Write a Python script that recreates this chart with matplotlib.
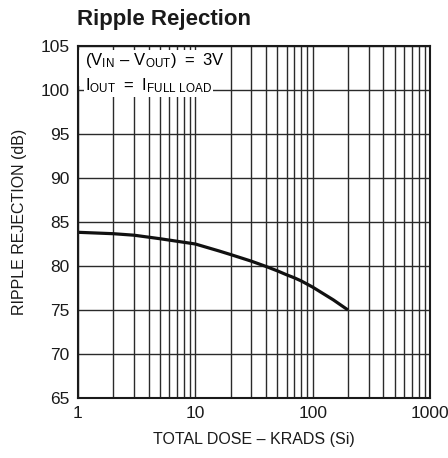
import matplotlib
matplotlib.use('Agg')
import matplotlib.pyplot as plt
from matplotlib.patches import Rectangle
from matplotlib.ticker import LogLocator, FixedLocator, NullFormatter, FixedFormatter

plt.rcParams['font.family'] = ['Liberation Sans', 'DejaVu Sans']
plt.rcParams['mathtext.fontset'] = 'custom'
plt.rcParams['mathtext.rm'] = 'Liberation Sans'

# curve
dose = [1, 2, 3, 5, 10, 16, 20, 30, 40, 50, 60, 70, 80, 100, 150, 200]
rejection = [83.83, 83.67, 83.5, 83.1, 82.5, 81.7, 81.3, 80.55, 79.95,
             79.45, 79.0, 78.65, 78.3, 77.6, 76.15, 75.0]

x_ticks = [1, 10, 100, 1000]
x_labels = ['1', '10', '100', '1000']
y_ticks = [65, 70, 75, 80, 85, 90, 95, 100, 105]

fig = plt.figure(figsize=(4.48, 4.58), dpi=100)
ax = fig.add_axes([78 / 448, 1 - 398 / 458, 352 / 448, 352 / 458])

ax.set_xscale('log')
ax.set_xlim(1, 1000)
ax.set_ylim(65, 105)

ax.xaxis.set_major_locator(FixedLocator(x_ticks))
ax.xaxis.set_major_formatter(FixedFormatter(x_labels))
ax.xaxis.set_minor_locator(LogLocator(base=10, subs=range(2, 10)))
ax.xaxis.set_minor_formatter(NullFormatter())
ax.set_yticks(y_ticks)

ax.grid(True, which='both', axis='x', color='#2a2a2a', linewidth=1.0)
ax.grid(True, which='major', axis='y', color='#2a2a2a', linewidth=1.0)
ax.tick_params(which='both', length=0, labelsize=12.5, pad=6, colors='#1a1a1a')

for s in ax.spines.values():
    s.set_linewidth(1.5)
    s.set_color('#1a1a1a')
    s.set_zorder(5)

ax.plot(dose, rejection, color='#111111', linewidth=2.3, solid_capstyle='butt', zorder=3)

# white panel behind the conditions note
ax.add_patch(Rectangle((0.004, 0.887), 0.428, 0.103, transform=ax.transAxes,
                       facecolor='white', edgecolor='none', zorder=3.5))
ax.text(0.02, 0.985, r'$\mathregular{(V_{IN}\ –\ V_{OUT})\ =\ 3V}$',
        transform=ax.transAxes, ha='left', va='top', fontsize=12, zorder=4)
ax.text(0.02, 0.913, r'$\mathregular{I_{OUT}\ =\ I_{FULL\ LOAD}}$',
        transform=ax.transAxes, ha='left', va='top', fontsize=12, zorder=4,
        bbox=dict(facecolor='white', edgecolor='none', pad=1.0))

ax.set_xlabel('TOTAL DOSE – KRADS (Si)', fontsize=11.5, labelpad=8, color='#1a1a1a')
ax.set_ylabel('RIPPLE REJECTION (dB)', fontsize=11.5, labelpad=10, color='#1a1a1a')

fig.text(77 / 448, 1 - 20 / 458, 'Ripple Rejection', ha='left', va='center',
         fontsize=16, fontweight='bold', color='#1a1a1a')

fig.savefig('out.png', dpi=100)
